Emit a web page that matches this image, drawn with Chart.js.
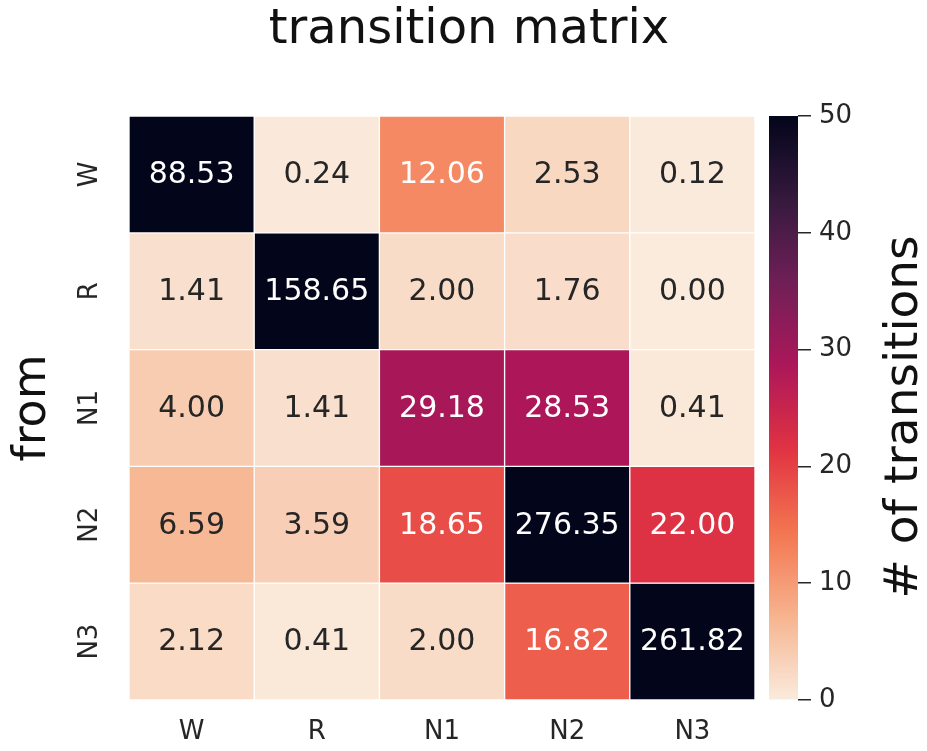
<!DOCTYPE html>
<html>
<head>
<meta charset="utf-8">
<script src="https://cdn.jsdelivr.net/npm/chart.js@4.4.0/dist/chart.umd.min.js"></script>
<style>
  html, body { margin: 0; padding: 0; background: #ffffff; }
  #wrap { position: relative; width: 927px; height: 751px; overflow: hidden; }
  #wrap canvas { position: absolute; top: 0; }
</style>
</head>
<body>
<div id="wrap">
  <canvas id="heat" width="927" height="751" style="left:0"></canvas>
  <canvas id="cbar" width="167" height="751" style="left:760px"></canvas>
</div>
<script>
// Sleep-stage transition counts: rows = "from" stage, columns = "to" stage
const fromStages = ['W', 'R', 'N1', 'N2', 'N3'];
const toStages = ['W', 'R', 'N1', 'N2', 'N3'];
const rowW  = [88.53, 0.24, 12.06, 2.53, 0.12];
const rowR  = [1.41, 158.65, 2.00, 1.76, 0.00];
const rowN1 = [4.00, 1.41, 29.18, 28.53, 0.41];
const rowN2 = [6.59, 3.59, 18.65, 276.35, 22.00];
const rowN3 = [2.12, 0.41, 2.00, 16.82, 261.82];
const colorbarTicks = [0, 10, 20, 30, 40, 50];
const vmin = 0;
const vmax = 50;

const FONT = "'DejaVu Sans', 'Liberation Sans', sans-serif";
const TEXT_DARK = '#262626';

// "rocket" colormap anchor colours (dark -> light); used reversed
const rocketStops = [
  [0.000, [3, 5, 26]],
  [0.143, [53, 25, 62]],
  [0.286, [112, 31, 87]],
  [0.429, [173, 23, 89]],
  [0.571, [225, 51, 66]],
  [0.714, [243, 118, 81]],
  [0.857, [246, 180, 143]],
  [1.000, [250, 235, 221]]
];

function rocket(t) {
  t = Math.max(0, Math.min(1, t));
  for (let i = 1; i < rocketStops.length; i++) {
    const [t1, c1] = rocketStops[i];
    const [t0, c0] = rocketStops[i - 1];
    if (t <= t1) {
      const f = (t - t0) / (t1 - t0);
      return c0.map((c, k) => Math.round(c + f * (c1[k] - c)));
    }
  }
  return rocketStops[rocketStops.length - 1][1];
}
// reversed map: high values dark, low values light
function valueColor(v) {
  return rocket(1 - (v - vmin) / (vmax - vmin));
}
function rgb(c) { return `rgb(${c[0]},${c[1]},${c[2]})`; }
function luminance(c) {
  const lin = c.map(x => {
    x /= 255;
    return x <= 0.03928 ? x / 12.92 : Math.pow((x + 0.055) / 1.055, 2.4);
  });
  return 0.2126 * lin[0] + 0.7152 * lin[1] + 0.0722 * lin[2];
}

const rows = [rowW, rowR, rowN1, rowN2, rowN3];

// one floating-bar dataset per "from" row; each bar spans one row band
const datasets = rows.map((vals, i) => ({
  label: fromStages[i],
  data: vals.map(() => [i, i + 1]),
  cellValues: vals,
  backgroundColor: vals.map(v => rgb(valueColor(v))),
  borderColor: '#ffffff',
  borderWidth: 1,
  borderSkipped: false,
  barPercentage: 1,
  categoryPercentage: 1,
  grouped: false
}));

// writes each cell's value in its centre
const cellText = {
  id: 'cellText',
  afterDatasetsDraw(chart) {
    const ctx = chart.ctx;
    ctx.save();
    ctx.font = `30px ${FONT}`;
    ctx.textAlign = 'center';
    ctx.textBaseline = 'middle';
    chart.data.datasets.forEach((ds, i) => {
      chart.getDatasetMeta(i).data.forEach((bar, j) => {
        const v = ds.cellValues[j];
        const p = bar.getCenterPoint();
        ctx.fillStyle = luminance(valueColor(v)) > 0.408 ? TEXT_DARK : '#ffffff';
        ctx.fillText(v.toFixed(2), p.x, p.y + 1);
      });
    });
    ctx.restore();
  }
};

const figTitle = {
  id: 'figTitle',
  afterDraw(chart) {
    const ctx = chart.ctx;
    ctx.save();
    ctx.font = `48px ${FONT}`;
    ctx.fillStyle = '#111111';
    ctx.textAlign = 'center';
    ctx.textBaseline = 'alphabetic';
    ctx.fillText('transition matrix', 469, 43);
    ctx.restore();
  }
};

new Chart(document.getElementById('heat'), {
  type: 'bar',
  data: { labels: toStages, datasets },
  options: {
    responsive: false,
    animation: false,
    layout: { padding: { left: 0, top: 116, right: 172, bottom: 0 } },
    plugins: { legend: { display: false }, tooltip: { enabled: false }, title: { display: false } },
    scales: {
      x: {
        type: 'category',
        grid: { display: false, drawTicks: false },
        border: { display: false },
        ticks: { padding: 17, color: TEXT_DARK, font: { size: 26, family: FONT } },
        afterFit(s) { s.height = 51; }
      },
      y: {
        type: 'linear',
        min: 0,
        max: 5,
        reverse: true,
        afterBuildTicks(s) { s.ticks = fromStages.map((_, i) => ({ value: i + 0.5 })); },
        grid: { display: false, drawTicks: false },
        border: { display: false },
        ticks: {
          padding: 21,
          minRotation: 90,
          maxRotation: 90,
          crossAlign: 'center',
          color: TEXT_DARK,
          font: { size: 26, family: FONT },
          callback: v => fromStages[Math.floor(v)]
        },
        title: {
          display: true,
          text: 'from',
          color: '#111111',
          font: { size: 46, family: FONT, lineHeight: 1.2 },
          padding: { top: 5, bottom: 0 }
        },
        afterFit(s) { s.width = 129; }
      }
    }
  },
  plugins: [cellText, figTitle]
});

// colour bar: a single floating bar from vmin to vmax filled with the colormap
const cbarLabel = {
  id: 'cbarLabel',
  afterDraw(chart) {
    const ctx = chart.ctx;
    ctx.save();
    ctx.translate(145, 417);
    ctx.rotate(-Math.PI / 2);
    ctx.font = `47px ${FONT}`;
    ctx.fillStyle = '#111111';
    ctx.textAlign = 'center';
    ctx.textBaseline = 'middle';
    ctx.fillText('# of transitions', 0, 0);
    ctx.restore();
  }
};

new Chart(document.getElementById('cbar'), {
  type: 'bar',
  data: {
    labels: [''],
    datasets: [{
      data: [[vmin, vmax]],
      backgroundColor(c) {
        const chart = c.chart;
        const ys = chart.scales.y;
        if (!chart.chartArea || !ys) return rgb(valueColor(vmin));
        const y0 = ys.getPixelForValue(vmin);
        const y1 = ys.getPixelForValue(vmax);
        const g = chart.ctx.createLinearGradient(0, y0, 0, y1);
        const n = 64;
        for (let k = 0; k <= n; k++) {
          g.addColorStop(k / n, rgb(valueColor(vmin + (k / n) * (vmax - vmin))));
        }
        return g;
      },
      borderWidth: 0,
      barPercentage: 1,
      categoryPercentage: 1
    }]
  },
  options: {
    responsive: false,
    animation: false,
    layout: { padding: { left: 9, top: 116, right: 0, bottom: 51 } },
    plugins: { legend: { display: false }, tooltip: { enabled: false } },
    scales: {
      x: { display: false },
      y: {
        position: 'right',
        min: vmin,
        max: vmax,
        afterBuildTicks(s) { s.ticks = colorbarTicks.map(v => ({ value: v })); },
        grid: { drawOnChartArea: false, drawTicks: true, tickLength: 13, color: TEXT_DARK, lineWidth: 1.5 },
        border: { display: false },
        ticks: { padding: 8, color: TEXT_DARK, font: { size: 26, family: FONT } },
        afterFit(s) { s.width = 129; }
      }
    }
  },
  plugins: [cbarLabel]
});
</script>
</body>
</html>
